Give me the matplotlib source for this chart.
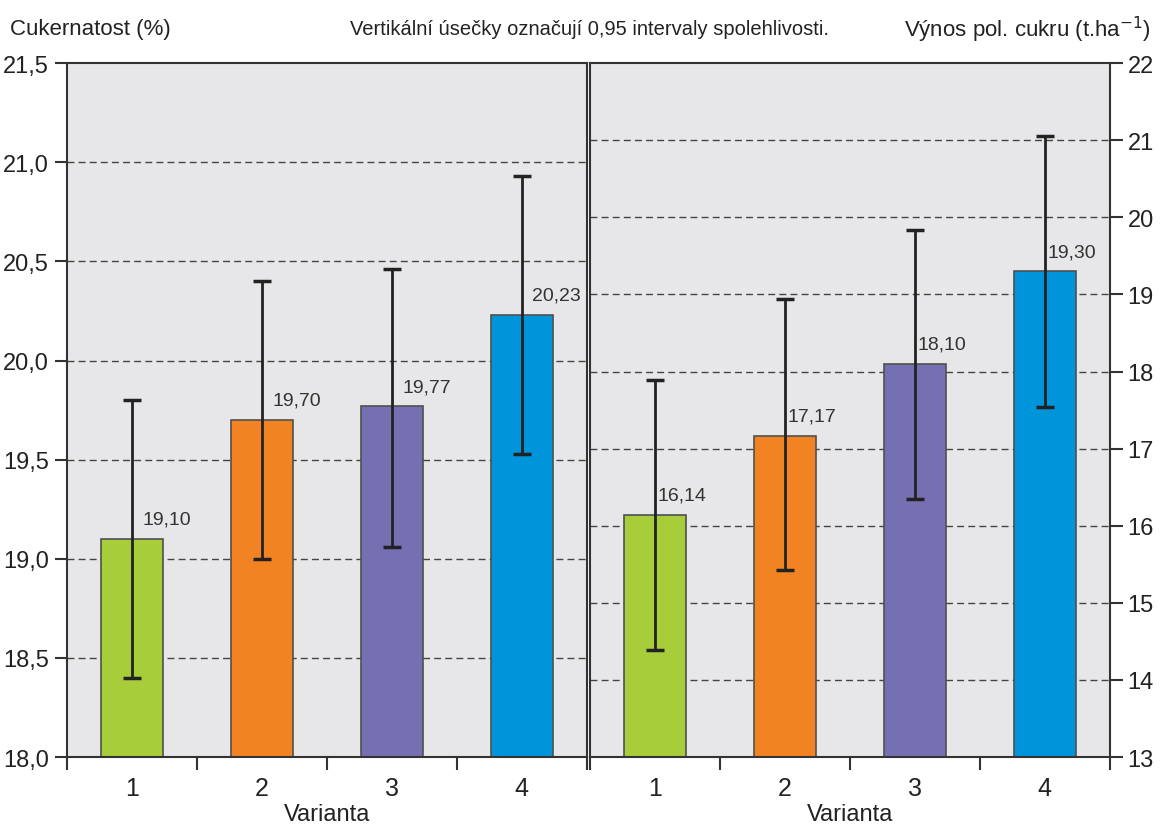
import numpy as np
import matplotlib.pyplot as plt
from matplotlib.ticker import FixedLocator

plt.rcParams['font.family'] = ['Liberation Sans Narrow', 'Liberation Sans', 'DejaVu Sans']

varianty = ["1", "2", "3", "4"]
colors = ["#a8cd3a", "#f28322", "#7570b2", "#0095da"]

# Cukernatost (%)
cuk_mean = [19.10, 19.70, 19.77, 20.23]
cuk_low = [18.40, 19.00, 19.06, 19.53]
cuk_high = [19.80, 20.40, 20.46, 20.93]
cuk_labels = ["19,10", "19,70", "19,77", "20,23"]

# Vynos pol. cukru (t/ha)
vyn_mean = [16.14, 17.17, 18.10, 19.30]
vyn_low = [14.39, 15.42, 16.35, 17.54]
vyn_high = [17.89, 18.94, 19.83, 21.05]
vyn_labels = ["16,14", "17,17", "18,10", "19,30"]

fig = plt.figure(figsize=(11.6, 8.29), dpi=100)
ax1 = fig.add_axes([0.0578, 0.0856, 0.448, 0.837])
ax2 = fig.add_axes([0.5086, 0.0856, 0.448, 0.837])

x = np.arange(1, 5)


def draw_panel(ax, mean, low, high, labels, ylim, major, grid, lab_dx):
    ax.set_facecolor("#e7e7e9")
    ax.bar(x, np.array(mean) - ylim[0], bottom=ylim[0], width=0.48, color=colors,
           edgecolor="#505050", linewidth=1.2, zorder=2)
    err = [np.array(mean) - np.array(low), np.array(high) - np.array(mean)]
    ax.errorbar(x, mean, yerr=err, fmt="none", ecolor="#222222", elinewidth=2,
                capsize=6.5, capthick=2.5, zorder=3)
    for xi, m, lab in zip(x, mean, labels):
        ax.annotate(lab, (xi + lab_dx, m), xytext=(0, 8), textcoords="offset points",
                    fontsize=14, color="#333333", ha="center", va="bottom", zorder=4)
    for g in grid:
        ax.axhline(g, color="#444444", lw=1, ls=(0, (5, 3)), zorder=1)
    ax.set_ylim(*ylim)
    ax.set_xlim(0.5, 4.5)
    ax.yaxis.set_major_locator(FixedLocator(major))
    ax.xaxis.set_major_locator(FixedLocator([0.5, 1.5, 2.5, 3.5, 4.5]))
    ax.xaxis.set_minor_locator(FixedLocator(x))
    ax.set_xticklabels([], minor=False)
    ax.set_xticklabels(varianty, minor=True)
    ax.tick_params(axis="x", which="major", length=9, width=1.5, color="#333333")
    ax.tick_params(axis="x", which="minor", length=0, labelsize=18, pad=14,
                   labelcolor="#222222")
    ax.tick_params(axis="y", length=9, width=1.5, color="#333333", labelsize=17,
                   labelcolor="#222222", pad=4)
    for s in ax.spines.values():
        s.set_linewidth(1.5)
        s.set_color("#333333")
    ax.set_xlabel("Varianta", fontsize=17, color="#222222", labelpad=2)


draw_panel(ax1, cuk_mean, cuk_low, cuk_high, cuk_labels, (18.0, 21.5),
           [18.0, 18.5, 19.0, 19.5, 20.0, 20.5, 21.0, 21.5],
           [18.5, 19.0, 19.5, 20.0, 20.5, 21.0], 0.27)
ax1.set_yticklabels(["18,0", "18,5", "19,0", "19,5", "20,0", "20,5", "21,0", "21,5"])

draw_panel(ax2, vyn_mean, vyn_low, vyn_high, vyn_labels, (13, 22),
           list(range(13, 23)), list(range(14, 22)), 0.21)
ax2.yaxis.tick_right()
ax2.set_yticklabels([str(v) for v in range(13, 23)])

fig.text(0.009, 0.964, "Cukernatost (%)", fontsize=16, color="#222222", va="center")
fig.text(0.508, 0.964, "Vertikální úsečky označují 0,95 intervaly spolehlivosti.",
         fontsize=14.5, color="#222222", va="center", ha="center")
fig.text(0.992, 0.964, "Výnos pol. cukru (t.ha$^{-1}$)", fontsize=16, color="#222222",
         va="center", ha="right")

fig.savefig("out.png", dpi=100, facecolor="white")
